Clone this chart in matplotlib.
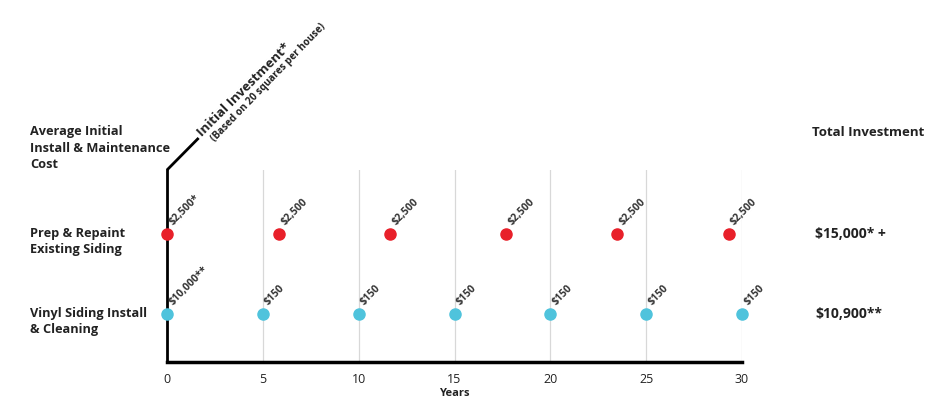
"""
Siding cost over 30 years: repaint vs vinyl
"""
import matplotlib
matplotlib.use('Agg')
import matplotlib.pyplot as plt

plt.rcParams['font.family'] = ['Open Sans', 'DejaVu Sans']

# data
repaint_years = [0, 5.85, 11.65, 17.7, 23.5, 29.3]
repaint_labels = ['$2,500*', '$2,500', '$2,500', '$2,500', '$2,500', '$2,500']
vinyl_years = [0, 5, 10, 15, 20, 25, 30]
vinyl_labels = ['$10,000**', '$150', '$150', '$150', '$150', '$150', '$150']
row_names = ['Vinyl Siding Install\n& Cleaning', 'Prep & Repaint\nExisting Siding']
totals = ['$10,900**', '$15,000* +']
x_ticks = [0, 5, 10, 15, 20, 25, 30]

RED = '#e8202a'
BLUE = '#4fc3dc'
TXT = '#222222'

W, H = 931, 403
fig = plt.figure(figsize=(W / 100, H / 100), dpi=100)
ax = fig.add_axes([167 / W, 1 - 362 / H, (742 - 167) / W, (362 - 170) / H])
ax.set_xlim(0, 30)
ax.set_ylim(-0.6, 1.8)

for x in x_ticks[1:]:
    ax.axvline(x, color='#d8d8d8', lw=0.9, zorder=0)

ax.plot(repaint_years, [1] * len(repaint_years), 'o', color=RED, ms=8,
        clip_on=False, zorder=3)
ax.plot(vinyl_years, [0] * len(vinyl_years), 'o', color=BLUE, ms=8,
        clip_on=False, zorder=3)

for x, lab in zip(repaint_years, repaint_labels):
    ax.annotate(lab, (x, 1), xytext=(5.5, 5), textcoords='offset points',
                rotation=45, rotation_mode='anchor', ha='left', va='bottom',
                fontsize=7.5, fontweight='bold', color='#333333')
for x, lab in zip(vinyl_years, vinyl_labels):
    ax.annotate(lab, (x, 0), xytext=(5.5, 5), textcoords='offset points',
                rotation=45, rotation_mode='anchor', ha='left', va='bottom',
                fontsize=7.5, fontweight='bold', color='#333333')

for s in ['top', 'right']:
    ax.spines[s].set_visible(False)
ax.spines['left'].set_linewidth(2)
ax.spines['bottom'].set_linewidth(2.5)
ax.set_yticks([])
ax.set_xticks(x_ticks)
ax.tick_params(axis='x', length=0, pad=8, labelsize=9, labelcolor=TXT)
ax.set_xlabel('Years', fontsize=8, fontweight='bold', color=TXT, labelpad=1)

# diagonal continuation of the y axis
ax.plot([0, 1.65], [1.8, 1.8 + 32 / 80], color='black', lw=2, clip_on=False,
        solid_capstyle='butt')
fig.text(204 / W, 1 - 139 / H, 'Initial Investment*', rotation=45,
         rotation_mode='anchor', ha='left', va='bottom', fontsize=9.5,
         fontweight='bold', color=TXT)
fig.text(217 / W, 1 - 144 / H, '(Based on 20 squares per house)', rotation=46,
         rotation_mode='anchor', ha='left', va='bottom', fontsize=7.2,
         fontweight='bold', color=TXT)

# left and right labels
fig.text(30 / W, 1 - 148 / H, 'Average Initial\nInstall & Maintenance\nCost',
         ha='left', va='center', fontsize=9.2, fontweight='bold', color=TXT,
         linespacing=1.3)
row_px = [314, 234]
for yp, name in zip(row_px, row_names):
    fig.text(30 / W, 1 - (yp + 8) / H, name, ha='left', va='center',
             fontsize=9.2, fontweight='bold', color=TXT, linespacing=1.3)
fig.text(812 / W, 1 - 132 / H, 'Total Investment', ha='left', va='center',
         fontsize=9.5, fontweight='bold', color=TXT)
for yp, t in zip(row_px, totals):
    fig.text(815 / W, 1 - yp / H, t, ha='left', va='center', fontsize=10,
             fontweight='bold', color=TXT)

fig.savefig('out.png', dpi=100)
